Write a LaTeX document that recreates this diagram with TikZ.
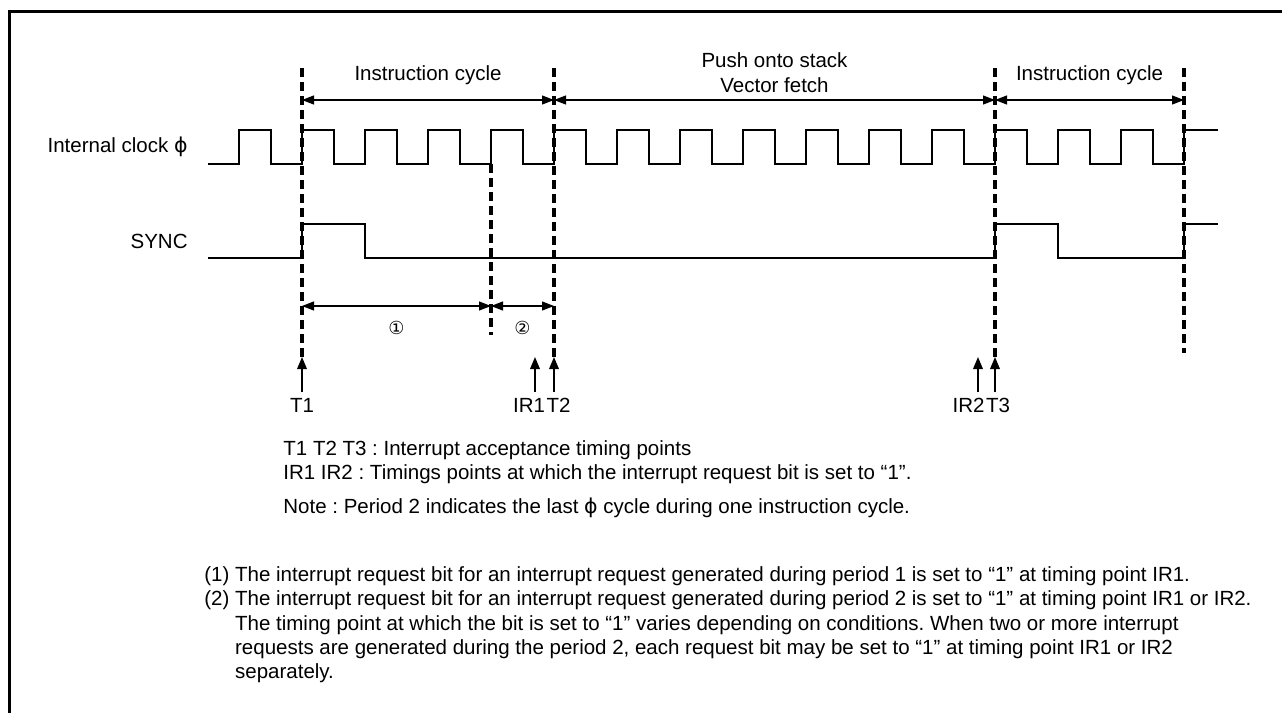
\documentclass[tikz,border=0pt]{standalone}
\usepackage{fontspec}
\setmainfont{Liberation Sans}
\newfontfamily\symfont{DejaVu Sans}
\usetikzlibrary{arrows.meta,positioning,calc}
\frenchspacing

\begin{document}
\begin{tikzpicture}[x=0.5pt, y=-0.5pt, >=Triangle,
  wave/.style={line width=1pt},
  guide/.style={line width=1.6pt,dash pattern=on 4.5pt off 2.5pt},
  dim/.style={<->,line width=0.6pt,>={Triangle[length=6pt,width=4.5pt]}},
  pointer/.style={->,line width=0.8pt,>={Triangle[length=6pt,width=4.8pt]}},
  every node/.style={inner sep=0pt,font=\fontsize{10.25}{12.2}\selectfont}]
  \useasboundingbox (0,0) rectangle (1282,713);
  % frame (top and left side only)
  \draw[line width=1.5pt] (9,713) -- (9,11) -- (1282,11);
  % timing points
  \foreach \n/\x in {t1/302,t2/554,t3/995} {
    \coordinate (\n top) at (\x,68);
    \coordinate (\n tip) at (\x,357);
    \coordinate (\n tail) at (\x,392);
    \coordinate (\n dim) at (\x,100);
    \coordinate (\n sub) at (\x,306);
  }
  \coordinate (t4top) at (1184,68);
  \coordinate (t4end) at (1184,353);
  \coordinate (t4dim) at (1184,100);
  \coordinate (mtop) at (491,164);
  \coordinate (mend) at (491,335);
  \coordinate (msub) at (491,306);
  \coordinate (ir1tip) at (535,357);
  \coordinate (ir1tail) at (535,392);
  \coordinate (ir2tip) at (978,357);
  \coordinate (ir2tail) at (978,392);
  % signal names
  \node[anchor=east] (clk) at (188,147) {Internal clock {\symfont ϕ}};
  \node[anchor=east] (sync) at (188,241) {SYNC};
  % internal clock
  \draw[wave] (208,164) -- (239,164)
    \foreach \k in {0,...,14} { -- ++(0,-34) -- ++(31.5,0) -- ++(0,34) -- ++(31.5,0) }
    -- ++(0,-34) -- ++(34,0);
  % SYNC
  \draw[wave] (208,258) -- (302,258) -- (302,224) -- (365,224) -- (365,258)
    -- (995,258) -- (995,224) -- (1058,224) -- (1058,258)
    -- (1184,258) -- (1184,224) -- (1218,224);
  % guide lines
  \draw[guide] (t1top) -- (t1tip);
  \draw[guide] (t2top) -- (t2tip);
  \draw[guide] (t3top) -- (t3tip);
  \draw[guide] (t4top) -- (t4end);
  \draw[guide] (mtop) -- (mend);
  % cycles
  \draw[dim] (t1dim) -- (t2dim);
  \draw[dim] (t2dim) -- (t3dim);
  \draw[dim] (t3dim) -- (t4dim);
  \node (cyc1) at (428,75) {Instruction cycle};
  \node[align=center] (push) at (774.5,72.5) {Push onto stack\\[0.3pt]Vector fetch};
  \node (cyc2) at (1089.5,75) {Instruction cycle};
  % periods 1 and 2
  \draw[dim] (t1sub) -- (msub);
  \draw[dim] (msub) -- (t2sub);
  \node[font=\symfont\fontsize{9}{10}\selectfont] (per1) at (396.5,328) {①};
  \node[font=\symfont\fontsize{9}{10}\selectfont] (per2) at (522.5,328) {②};
  % acceptance and request points
  \draw[pointer] (t1tail) -- (t1tip);
  \draw[pointer] (t2tail) -- (t2tip);
  \draw[pointer] (t3tail) -- (t3tip);
  \draw[pointer] (ir1tail) -- (ir1tip);
  \draw[pointer] (ir2tail) -- (ir2tip);
  \node (lt1) at (302,405) {T1};
  \node (lir1) at (529,405) {IR1};
  \node (lt2) at (558.5,405) {T2};
  \node (lir2) at (968.5,405) {IR2};
  \node (lt3) at (998,405) {T3};
  % notes
  \node[anchor=north west,align=left] (legend) at (283,440)
    {T1 T2 T3 : Interrupt acceptance timing points\\
     IR1 IR2 : Timings points at which the interrupt request bit is set to “1”.};
  \node[anchor=north west] (note) at (283,498)
    {Note : Period 2 indicates the last {\symfont ϕ} cycle during one instruction cycle.};
  \node[anchor=north west,align=left] (list) at (204,566)
    {(1) The interrupt request bit for an interrupt request generated during period 1 is set to “1” at timing point IR1.\\
     (2) The interrupt request bit for an interrupt request generated during period 2 is set to “1” at timing point IR1 or IR2.\\
     \hphantom{(2)\ }The timing point at which the bit is set to “1” varies depending on conditions. When two or more interrupt\\
     \hphantom{(2)\ }requests are generated during the period 2, each request bit may be set to “1” at timing point IR1 or IR2\\
     \hphantom{(2)\ }separately.};
\end{tikzpicture}
\end{document}
